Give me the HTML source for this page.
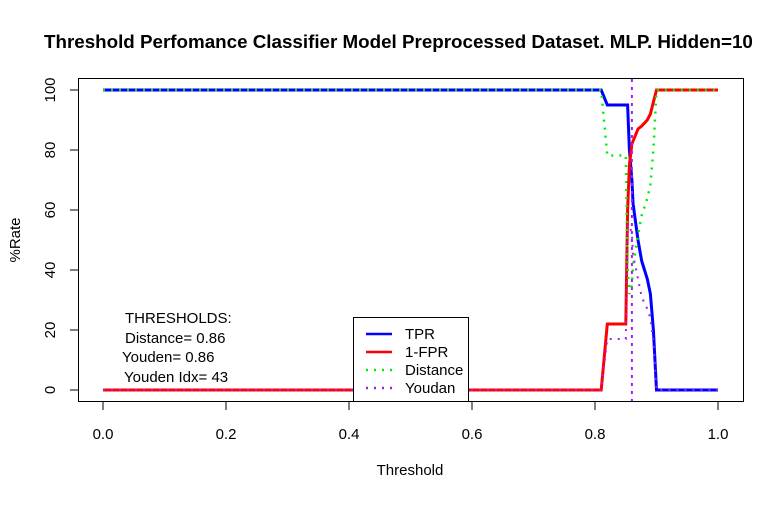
<!DOCTYPE html>
<html><head><meta charset="utf-8"><style>
body{margin:0;background:#fff}
svg text{font-family:"Liberation Sans",Arial,sans-serif;fill:#000}
</style></head><body>
<svg id="chart" width="784" height="500" viewBox="0 0 784 500">
<rect width="784" height="500" fill="#fff"/>
<text x="44" y="48" font-size="18.8" font-weight="bold">Threshold Perfomance Classifier Model Preprocessed Dataset. MLP. Hidden=10</text>
<rect x="78.5" y="78.5" width="665" height="323" fill="none" stroke="#000" stroke-width="1"/>
<g id="axes"></g>
<g id="series"></g>
<text x="410" y="475" font-size="15" text-anchor="middle">Threshold</text>
<text transform="translate(20,240) rotate(-90)" font-size="15" text-anchor="middle">%Rate</text>
<g font-size="15">
<text x="125" y="323">THRESHOLDS:</text>
<text x="125" y="343">Distance= 0.86</text>
<text x="122" y="362">Youden= 0.86</text>
<text x="124" y="382">Youden Idx= 43</text>
</g>
<g>
<rect x="353.5" y="317.5" width="115" height="84" fill="#fff" stroke="#000"/>
<line x1="366" y1="334" x2="392" y2="334" stroke="#0000ff" stroke-width="2.5"/>
<line x1="366" y1="352" x2="392" y2="352" stroke="#ff0000" stroke-width="2.5"/>
<line x1="366" y1="370" x2="392" y2="370" stroke="#00ee00" stroke-width="2.5" stroke-dasharray="2,6"/>
<line x1="366" y1="388" x2="392" y2="388" stroke="#a020f0" stroke-width="2.5" stroke-dasharray="2,6"/>
<text x="405" y="339" font-size="15">TPR</text>
<text x="405" y="357" font-size="15">1-FPR</text>
<text x="405" y="375" font-size="15">Distance</text>
<text x="405" y="393" font-size="15">Youdan</text>
</g>
</svg>
<script>
const thresholds = [0, 0.81, 0.82, 0.85, 0.853, 0.856, 0.86, 0.862, 0.87, 0.876, 0.885, 0.89, 0.895, 0.90, 1.0];
const tprValues  = [100, 100, 95, 95, 95, 80, 70, 62, 50, 43, 37, 32, 20, 0, 0];
const specValues = [0, 0, 22, 22, 60, 75, 82, 83, 87, 88, 90, 92, 96, 100, 100];
const xTicks = [0, 0.2, 0.4, 0.6, 0.8, 1.0];
const xTickLabels = ["0.0","0.2","0.4","0.6","0.8","1.0"];
const yTicks = [0, 20, 40, 60, 80, 100];
const bestThreshold = 0.86;

const NS="http://www.w3.org/2000/svg";
const xs = v => 103 + v*615;
const ys = v => 390 - v*3;
const axes=document.getElementById('axes'), series=document.getElementById('series');
function mk(tag, attrs, parent){const e=document.createElementNS(NS,tag);for(const k in attrs)e.setAttribute(k,attrs[k]);parent.appendChild(e);return e;}
xTicks.forEach((t,i)=>{
  const l=mk('line',{x1:xs(t),x2:xs(t),y1:402,y2:410,stroke:'#000'},axes);
  
  
  const tx=mk('text',{x:xs(t),y:439,'font-size':15,'text-anchor':'middle'},axes);
  tx.textContent=xTickLabels[i];
  
  
});
yTicks.forEach(t=>{
  const l=mk('line',{x1:70,x2:78,y1:ys(t),y2:ys(t),stroke:'#000'},axes);
  
  
  const tx=mk('text',{transform:`translate(55,${ys(t)}) rotate(-90)`,'font-size':15,'text-anchor':'middle'},axes);
  tx.textContent=String(t);
  
  
});
const distValues = thresholds.map((_,i)=>Math.sqrt((100-tprValues[i])**2+(100-specValues[i])**2));
const youdValues = thresholds.map((_,i)=>tprValues[i]+specValues[i]-100);
function pts(vals){return thresholds.map((t,i)=>xs(t).toFixed(1)+','+ys(vals[i]).toFixed(1)).join(' ');}
const s1=mk('polyline',{points:pts(tprValues),fill:'none',stroke:'#0000ff','stroke-width':3},series);


const s2=mk('polyline',{points:pts(specValues),fill:'none',stroke:'#ff0000','stroke-width':3},series);


const s3=mk('polyline',{points:pts(distValues),fill:'none',stroke:'#00ee00','stroke-width':2.5,'stroke-dasharray':'2,6'},series);


const s4=mk('polyline',{points:pts(youdValues),fill:'none',stroke:'#a020f0','stroke-width':2,'stroke-dasharray':'2,6'},series);


const v=mk('line',{x1:xs(bestThreshold),x2:xs(bestThreshold),y1:79,y2:401,stroke:'#a020f0','stroke-width':2,'stroke-dasharray':'3,5'},series);


</script>
</body></html>
